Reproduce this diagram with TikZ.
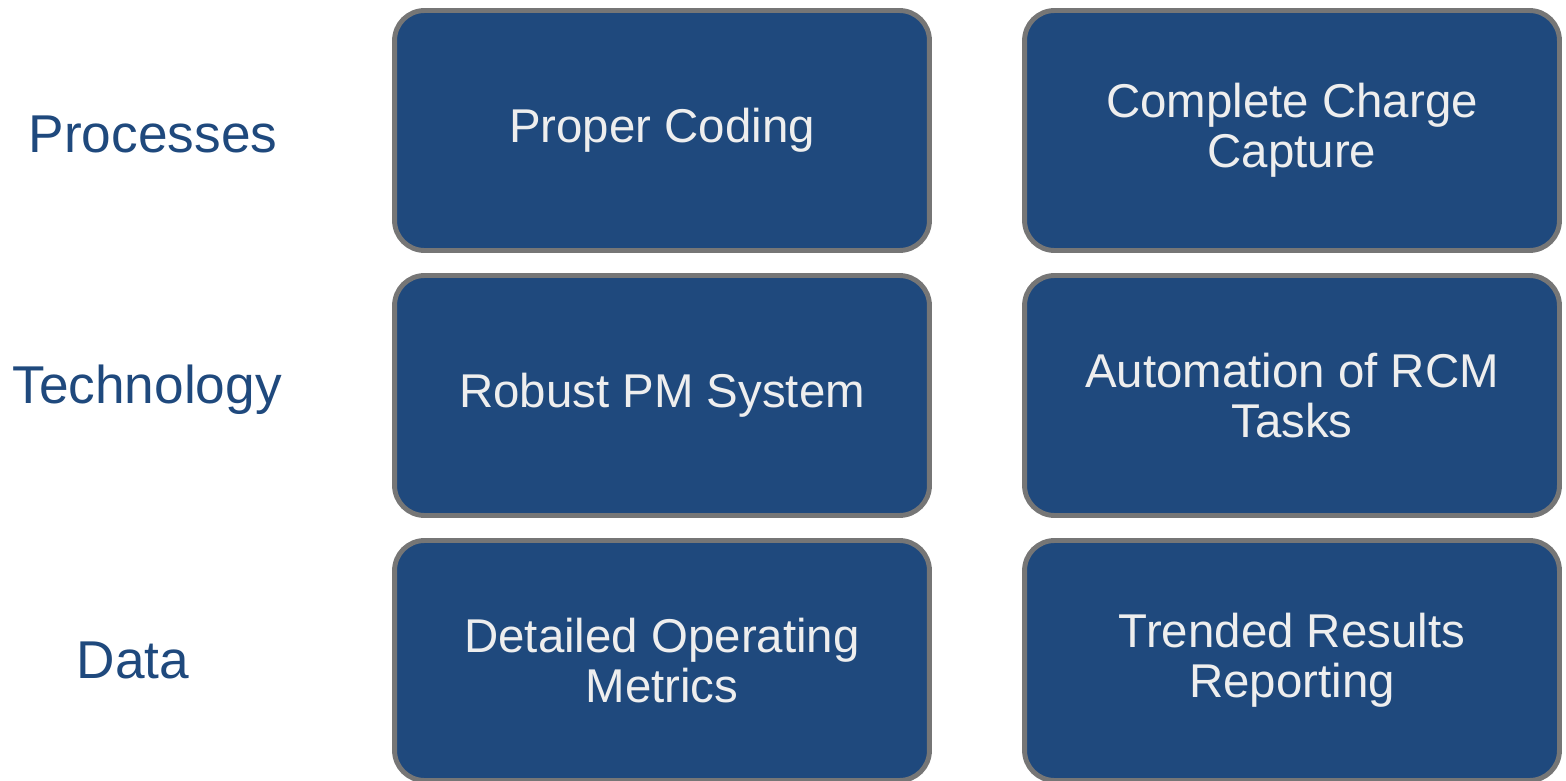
\documentclass[tikz,border=0pt]{standalone}
\usepackage{fontspec}
\setmainfont{Liberation Sans}
\usepackage{tikz}
\usetikzlibrary{positioning}
\definecolor{boxblue}{RGB}{31,73,125}
\definecolor{boxline}{RGB}{118,118,118}
\definecolor{boxtext}{RGB}{238,238,238}
\definecolor{rowtext}{RGB}{31,73,125}
\tikzset{
    cell/.style = {rectangle, rounded corners=0.6cm, draw=boxline, line width=2.8pt, fill=boxblue,
                   minimum width=10.7cm, minimum height=4.8cm, align=center, text=boxtext,
                   font=\fontsize{27}{28.5}\selectfont},
    rowlabel/.style = {text=rowtext, font=\fontsize{30.3}{32}\selectfont},
}

\begin{document}
\begin{tikzpicture}[x=0.02cm,y=-0.02cm]
\useasboundingbox (0,0) rectangle (1566,781);
% row labels
\node[rowlabel] at (153,134) (proc) {Processes};
\node[rowlabel] at (147,390) (tech) {Technology};
\node[rowlabel] at (133,660) (data) {Data};
%
\node[cell] at (662,130.5) (coding) {Proper Coding};
\node[cell] at (1292,130.5) (charge) {Complete Charge\\Capture};
\node[cell] at (662,395.5) (pmsys) {Robust PM System};
\node[cell] at (1292,395.5) (rcm) {Automation of RCM\\Tasks};
\node[cell] at (662,660.5) (metrics) {Detailed Operating\\Metrics};
\node[cell] at (1292,660.5) (report) {Trended Results\\Reporting};
\end{tikzpicture}
\end{document}
